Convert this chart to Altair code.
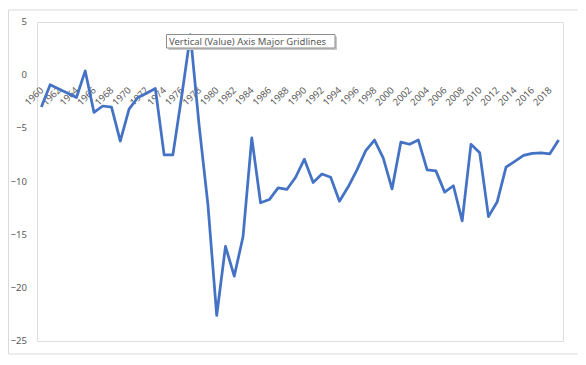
import altair as alt
import pandas as pd

years = list(range(1960, 2020))
values = [-3.0, -0.9, -1.3, -1.7, -2.1, 0.4, -3.5, -2.9, -3.0, -6.2,
          -3.2, -2.1, -1.7, -1.25, -7.5, -7.5, -2.0, 3.8, -4.8, -12.2,
          -22.6, -16.1, -18.9, -15.2, -5.9, -12.0, -11.7, -10.6, -10.75, -9.6,
          -7.9, -10.1, -9.3, -9.6, -11.85, -10.5, -8.9, -7.1, -6.1, -7.8,
          -10.7, -6.3, -6.5, -6.1, -8.9, -9.0, -11.0, -10.4, -13.7, -6.5,
          -7.3, -13.3, -11.9, -8.65, -8.1, -7.55, -7.35, -7.3, -7.4, -6.1]
x_tick_labels = list(range(1960, 2019, 2))
y_ticks = [-25, -20, -15, -10, -5, 0, 5]
tooltip_text = "Vertical (Value) Axis Major Gridlines"

df = pd.DataFrame({"year": years, "value": values})
ticks_df = pd.DataFrame({"tick": y_ticks})
one = pd.DataFrame({"k": [0]})

W, H = 526, 319
FONT = "Noto Sans"
LABEL = "#595959"
GRID = "#D9D9D9"

x_scale = alt.Scale(domain=[1959.5, 2019.5], nice=False, zero=False)
y_scale = alt.Scale(domain=[-25, 5], nice=False, zero=False)

zero_px = H * (5 / 30)  # pixel of value 0 from top

line = alt.Chart(df).mark_line(color="#4472C4", strokeWidth=2.75, strokeJoin="round").encode(
    x=alt.X("year:Q", scale=x_scale,
            axis=alt.Axis(values=x_tick_labels, format="d", title=None,
                          labelAngle=-45, labelAlign="right", labelBaseline="middle",
                          ticks=False, tickSize=0, domain=False, grid=False,
                          labelPadding=13, labelFlush=False, labelOverlap=False,
                          offset=zero_px - H,
                          labelFont=FONT, labelFontSize=9.5, labelColor=LABEL)),
    y=alt.Y("value:Q", scale=y_scale,
            axis=alt.Axis(values=y_ticks, title=None, ticks=False, tickSize=0, domain=False,
                          grid=True, gridColor=GRID, gridWidth=1, labels=False)),
)

y_labels = alt.Chart(ticks_df).mark_text(align="right", baseline="middle", font=FONT,
                                         fontSize=9.5, color=LABEL).encode(
    y=alt.Y("tick:Q", scale=y_scale, axis=None),
    x=alt.value(-10),
    text=alt.Text("tick:Q", format="d"),
)

border = alt.Chart(one).mark_rect(fill=None, stroke="#D9D9D9", strokeWidth=1).encode(
    x=alt.value(-28.5), x2=alt.value(543), y=alt.value(-12), y2=alt.value(332)
)

shadow = alt.Chart(one).mark_rect(fill="#C8C8C8", stroke=None).encode(
    x=alt.value(131.5), x2=alt.value(300), y=alt.value(14.5), y2=alt.value(28)
)
box = alt.Chart(one).mark_rect(fill="white", stroke="#8C8C8C", strokeWidth=1).encode(
    x=alt.value(129.5), x2=alt.value(298), y=alt.value(12.5), y2=alt.value(26)
)
label = alt.Chart(one).mark_text(align="left", baseline="middle", font=FONT,
                                 fontSize=9.5, color="#575757").encode(
    x=alt.value(132), y=alt.value(19.5), text=alt.value(tooltip_text)
)

chart = alt.layer(border, line, y_labels, shadow, box, label).properties(
    width=W, height=H,
    autosize=alt.AutoSizeParams(type="none"),
    padding={"left": 29, "top": 14, "right": 15, "bottom": 16},
).configure_view(stroke=None).configure(background="white")

chart.save("out.html", embed_options={"renderer": "svg", "actions": False})
